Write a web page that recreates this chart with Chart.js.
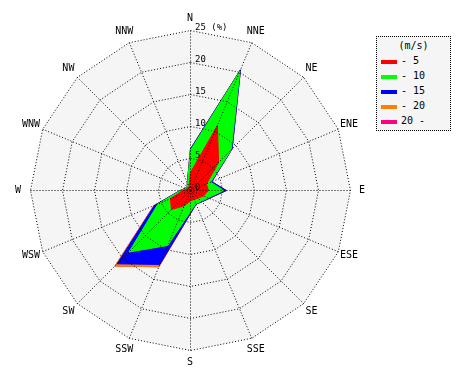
<!DOCTYPE html>
<html>
<head>
<meta charset="utf-8">
<script src="https://cdn.jsdelivr.net/npm/chart.js@4/dist/chart.umd.min.js"></script>
<style>
  body { margin: 0; background: #fff; }
  #wrap { position: relative; width: 470px; height: 380px; }
  #legend {
    position: absolute; left: 376px; top: 36px; width: 73px; height: 93px;
    border: 1px dotted #000; background: #f5f5f5;
    font: 10px "DejaVu Sans Mono", monospace; color: #000;
  }
  #legend .title { text-align: center; margin-top: 3px; height: 14px; }
  #legend .row { position: relative; height: 15px; }
  #legend .sw { position: absolute; left: 4px; top: 6px; width: 16px; height: 4px; }
  #legend .tx { position: absolute; left: 24px; top: 1px; white-space: pre; }
</style>
</head>
<body>
<div id="wrap">
  <canvas id="rose" width="470" height="380"></canvas>
  <div id="legend"></div>
</div>
<script>
const directions = ['N', 'NNE', 'NE', 'ENE', 'E', 'ESE', 'SE', 'SSE', 'S', 'SSW', 'SW', 'WSW', 'W', 'WNW', 'NW', 'NNW'];
const speedBands = ['- 5', '- 10', '- 15', '- 20', '20 -'];
const bandColors = ['#ff0000', '#00ff00', '#0000ff', '#ff8000', '#ff0080'];

// frequency (%) per direction for each wind speed band
const band5 = [2.8, 11.0, 6.2, 2.7, 2.8, 2.2, 1.7, 1.5, 1.6, 2.6, 4.2, 3.4, 1.2, 0.6, 0.5, 0.6];
const band10 = [3.5, 9.2, 2.8, 0.7, 2.4, 0.8, 0.7, 0.7, 1.7, 6.7, 9.4, 2.1, 0.3, 0.2, 0.2, 0.6];
const band15 = [0.2, 0.2, 0.2, 0.2, 0.4, 0.2, 0.1, 0.1, 0.3, 3.2, 2.6, 0.6, 0.1, 0.1, 0.0, 0.1];
const band20 = [0, 0, 0, 0, 0, 0, 0, 0, 0, 0.4, 0.5, 0.1, 0, 0, 0, 0];
const band20up = [0, 0, 0, 0, 0, 0, 0, 0, 0, 0, 0, 0, 0, 0, 0, 0];

const tickValues = [0, 5, 10, 15, 20, 25];
const tickLabels = ['0', '5', '10', '15', '20', '25 (%)'];

// stack the bands so each area is drawn from the centre out
const bands = [band5, band10, band15, band20, band20up];
let running = directions.map(() => 0);
const stacked = bands.map(b => {
  running = running.map((v, i) => +(v + b[i]).toFixed(2));
  return running;
});

const datasets = stacked.map((vals, i) => ({
  label: speedBands[i],
  data: vals,
  backgroundColor: bandColors[i],
  borderColor: bandColors[i],
  borderWidth: 1,
  pointRadius: 0,
  fill: 'origin'
}));

// half pixel shift so the straight dotted spokes land on whole pixels
const crisp = {
  id: 'crisp',
  beforeDraw(chart) { chart.ctx.save(); chart.ctx.translate(0.5, 0.5); },
  afterDraw(chart) { chart.ctx.restore(); }
};

// light grey plot face under the areas
const faceFill = {
  id: 'faceFill',
  beforeDatasetsDraw(chart) {
    const s = chart.scales.r;
    const ctx = chart.ctx;
    ctx.save();
    ctx.beginPath();
    directions.forEach((d, i) => {
      const p = s.getPointPosition(i, s.drawingArea);
      if (i === 0) ctx.moveTo(p.x, p.y); else ctx.lineTo(p.x, p.y);
    });
    ctx.closePath();
    ctx.fillStyle = '#f5f5f5';
    ctx.fill();
    ctx.restore();
  }
};

const roseText = {
  id: 'roseText',
  afterDraw(chart) {
    const s = chart.scales.r;
    const ctx = chart.ctx;
    ctx.save();
    ctx.fillStyle = '#000';
    ctx.font = '10px "DejaVu Sans Mono", monospace';
    ctx.textAlign = 'center';
    ctx.textBaseline = 'middle';
    directions.forEach((d, i) => {
      const p = s.getPointPosition(i, s.drawingArea + 12);
      ctx.fillText(d, p.x, p.y);
    });
    ctx.font = '9px "DejaVu Sans Mono", monospace';
    ctx.textAlign = 'left';
    ctx.textBaseline = 'alphabetic';
    tickValues.forEach((v, i) => {
      const r = s.getDistanceFromCenterForValue(v);
      ctx.fillText(tickLabels[i], s.xCenter + 5, s.yCenter - r);
    });
    ctx.restore();
  }
};

new Chart(document.getElementById('rose'), {
  type: 'radar',
  data: { labels: directions, datasets: datasets },
  options: {
    responsive: false,
    animation: false,
    layout: { padding: { left: 30, top: 30, right: 120, bottom: 30 } },
    plugins: { legend: { display: false }, tooltip: { enabled: false } },
    elements: { line: { tension: 0 } },
    scales: {
      r: {
        min: 0,
        max: 25,
        ticks: { stepSize: 5, display: false },
        pointLabels: { display: false },
        grid: { color: '#000', lineWidth: 1, circular: false, z: 1 },
        border: { dash: [1, 2] },
        angleLines: { color: '#000', lineWidth: 1, borderDash: [1, 2] }
      }
    }
  },
  plugins: [crisp, faceFill, roseText]
});

// legend box
const legend = document.getElementById('legend');
legend.innerHTML = '<div class="title">(m/s)</div>' + speedBands.map((b, i) =>
  '<div class="row"><span class="sw" style="background:' + bandColors[i] + '"></span><span class="tx">' + b + '</span></div>'
).join('');
</script>
</body>
</html>
